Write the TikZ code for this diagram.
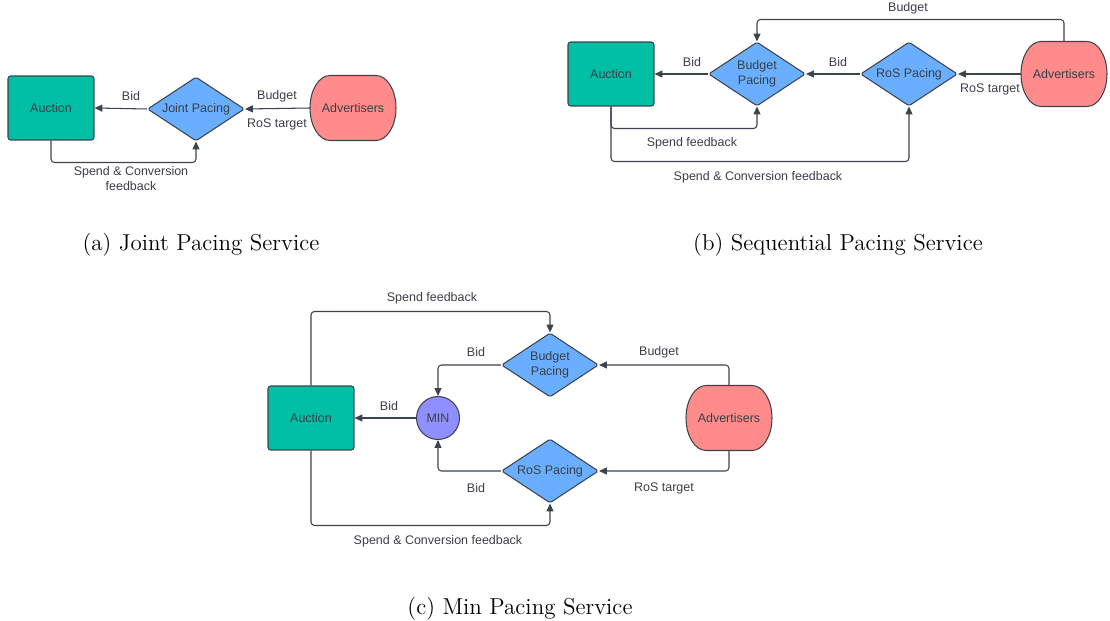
\documentclass[tikz,border=0pt]{standalone}
\usepackage{fontspec}
\setsansfont{Liberation Sans}
\usetikzlibrary{shapes.geometric,arrows.meta,backgrounds}
\definecolor{auccol}{HTML}{00BFA5}
\definecolor{pacecol}{HTML}{6AAFFF}
\definecolor{advcol}{HTML}{FF8B8B}
\definecolor{mincol}{HTML}{8F8FFF}
\definecolor{linecol}{HTML}{3C434D}
\definecolor{txtcol}{HTML}{3A3F47}
% outline of an advertisers node: flat top and bottom, elliptic ends
\newcommand{\advoutline}[1]{%
  \begin{scope}[on background layer]
  \filldraw[draw=linecol, line width=0.6pt, fill=advcol]
    ([xshift=0.4cm]#1.north west) -- ([xshift=-0.4cm]#1.north east)
    arc[start angle=90, end angle=-90, x radius=0.4cm, y radius=0.65cm]
    -- ([xshift=0.4cm]#1.south west)
    arc[start angle=270, end angle=90, x radius=0.4cm, y radius=0.65cm] -- cycle;
  \end{scope}}

\begin{document}
\begin{tikzpicture}[x=0.02cm, y=-0.02cm,
  every node/.style={font=\sffamily\fontsize{7.1}{8.5}\selectfont, text=txtcol},
  auction/.style={draw=linecol, line width=0.6pt, fill=auccol, rounded corners=1.5pt, minimum width=1.72cm, minimum height=1.28cm},
  pacer/.style={draw=linecol, line width=0.6pt, fill=pacecol, diamond, aspect=1.5, inner sep=0pt, minimum width=1.94cm, minimum height=1.28cm, align=center, rounded corners=1pt},
  adv/.style={rectangle, inner sep=0pt, outer sep=0pt, minimum width=1.72cm, minimum height=1.3cm},
  minnode/.style={draw=linecol, line width=0.6pt, fill=mincol, circle, minimum size=0.86cm, inner sep=0pt},
  flow/.style={draw=linecol, line width=0.6pt, rounded corners=2pt, -{Triangle[length=4.5pt,width=4pt]}},
  caption/.style={font=\rmfamily\fontsize{13.1}{15}\selectfont, text=black}]
\useasboundingbox (0,0) rectangle (1110,621);

% (a) joint pacing
\node[auction] (aucA) at (51,108) {Auction};
\node[pacer] (joint) at (196,109) {Joint Pacing};
\node[adv] (advA) at (353,108) {Advertisers};
\advoutline{advA}
\draw[flow] (joint.west) -- (aucA.east);
\draw[flow] (advA.west) -- (joint.east);
\draw[flow] (aucA.south) -- ++(0,22) -| (joint.south);
\node (bidA) at (131,96) {Bid};
\node (budA) at (277,96) {Budget};
\node (rosA) at (277,124) {RoS target};
\node[align=center] (fbA) at (131,179) {Spend \& Conversion\\feedback};
\node[caption] (capA) at (201,245) {(a) Joint Pacing Service};

% (b) sequential pacing
\node[auction] (aucB) at (611,74) {Auction};
\node[pacer] (budB) at (757,74) {Budget\\Pacing};
\node[pacer] (rosB) at (909,74) {RoS Pacing};
\node[adv] (advB) at (1064,74) {Advertisers};
\advoutline{advB}
\draw[flow] (budB.west) -- (aucB.east);
\draw[flow] (rosB.west) -- (budB.east);
\draw[flow] (advB.west) -- (rosB.east);
\draw[flow] (advB.north) -- ++(0,-22) -| (budB.north);
\draw[flow] (aucB.south) -- ++(0,22) -| (budB.south);
\draw[flow] (aucB.south) -- ++(0,55) -| (rosB.south);
\node (bidB1) at (692,62) {Bid};
\node (bidB2) at (838,62) {Bid};
\node (rosBl) at (990,89) {RoS target};
\node (budBl) at (908,8) {Budget};
\node (fbB1) at (692,143) {Spend feedback};
\node (fbB2) at (758,177) {Spend \& Conversion feedback};
\node[caption] (capB) at (838,245) {(b) Sequential Pacing Service};

% (c) min pacing
\node[auction] (aucC) at (311,418) {Auction};
\node[minnode] (minC) at (438,418) {MIN};
\node[pacer] (budC) at (550,365) {Budget\\Pacing};
\node[pacer] (rosC) at (550,471) {RoS Pacing};
\node[adv] (advC) at (729,418) {Advertisers};
\advoutline{advC}
\draw[flow] (minC.west) -- (aucC.east);
\draw[flow] (budC.west) -| (minC.north);
\draw[flow] (rosC.west) -| (minC.south);
\draw[flow] (advC.north) |- (budC.east);
\draw[flow] (advC.south) |- (rosC.east);
\draw[flow] (aucC.north) -- ++(0,-74) -| (budC.north);
\draw[flow] (aucC.south) -- ++(0,75) -| (rosC.south);
\node (bidC0) at (389,406) {Bid};
\node (bidC1) at (476,352) {Bid};
\node (bidC2) at (476,488) {Bid};
\node (budCl) at (659,352) {Budget};
\node (rosCl) at (664,488) {RoS target};
\node (fbC1) at (432,298) {Spend feedback};
\node (fbC2) at (438,541) {Spend \& Conversion feedback};
\node[caption] (capC) at (520,609) {(c) Min Pacing Service};
\end{tikzpicture}
\end{document}
